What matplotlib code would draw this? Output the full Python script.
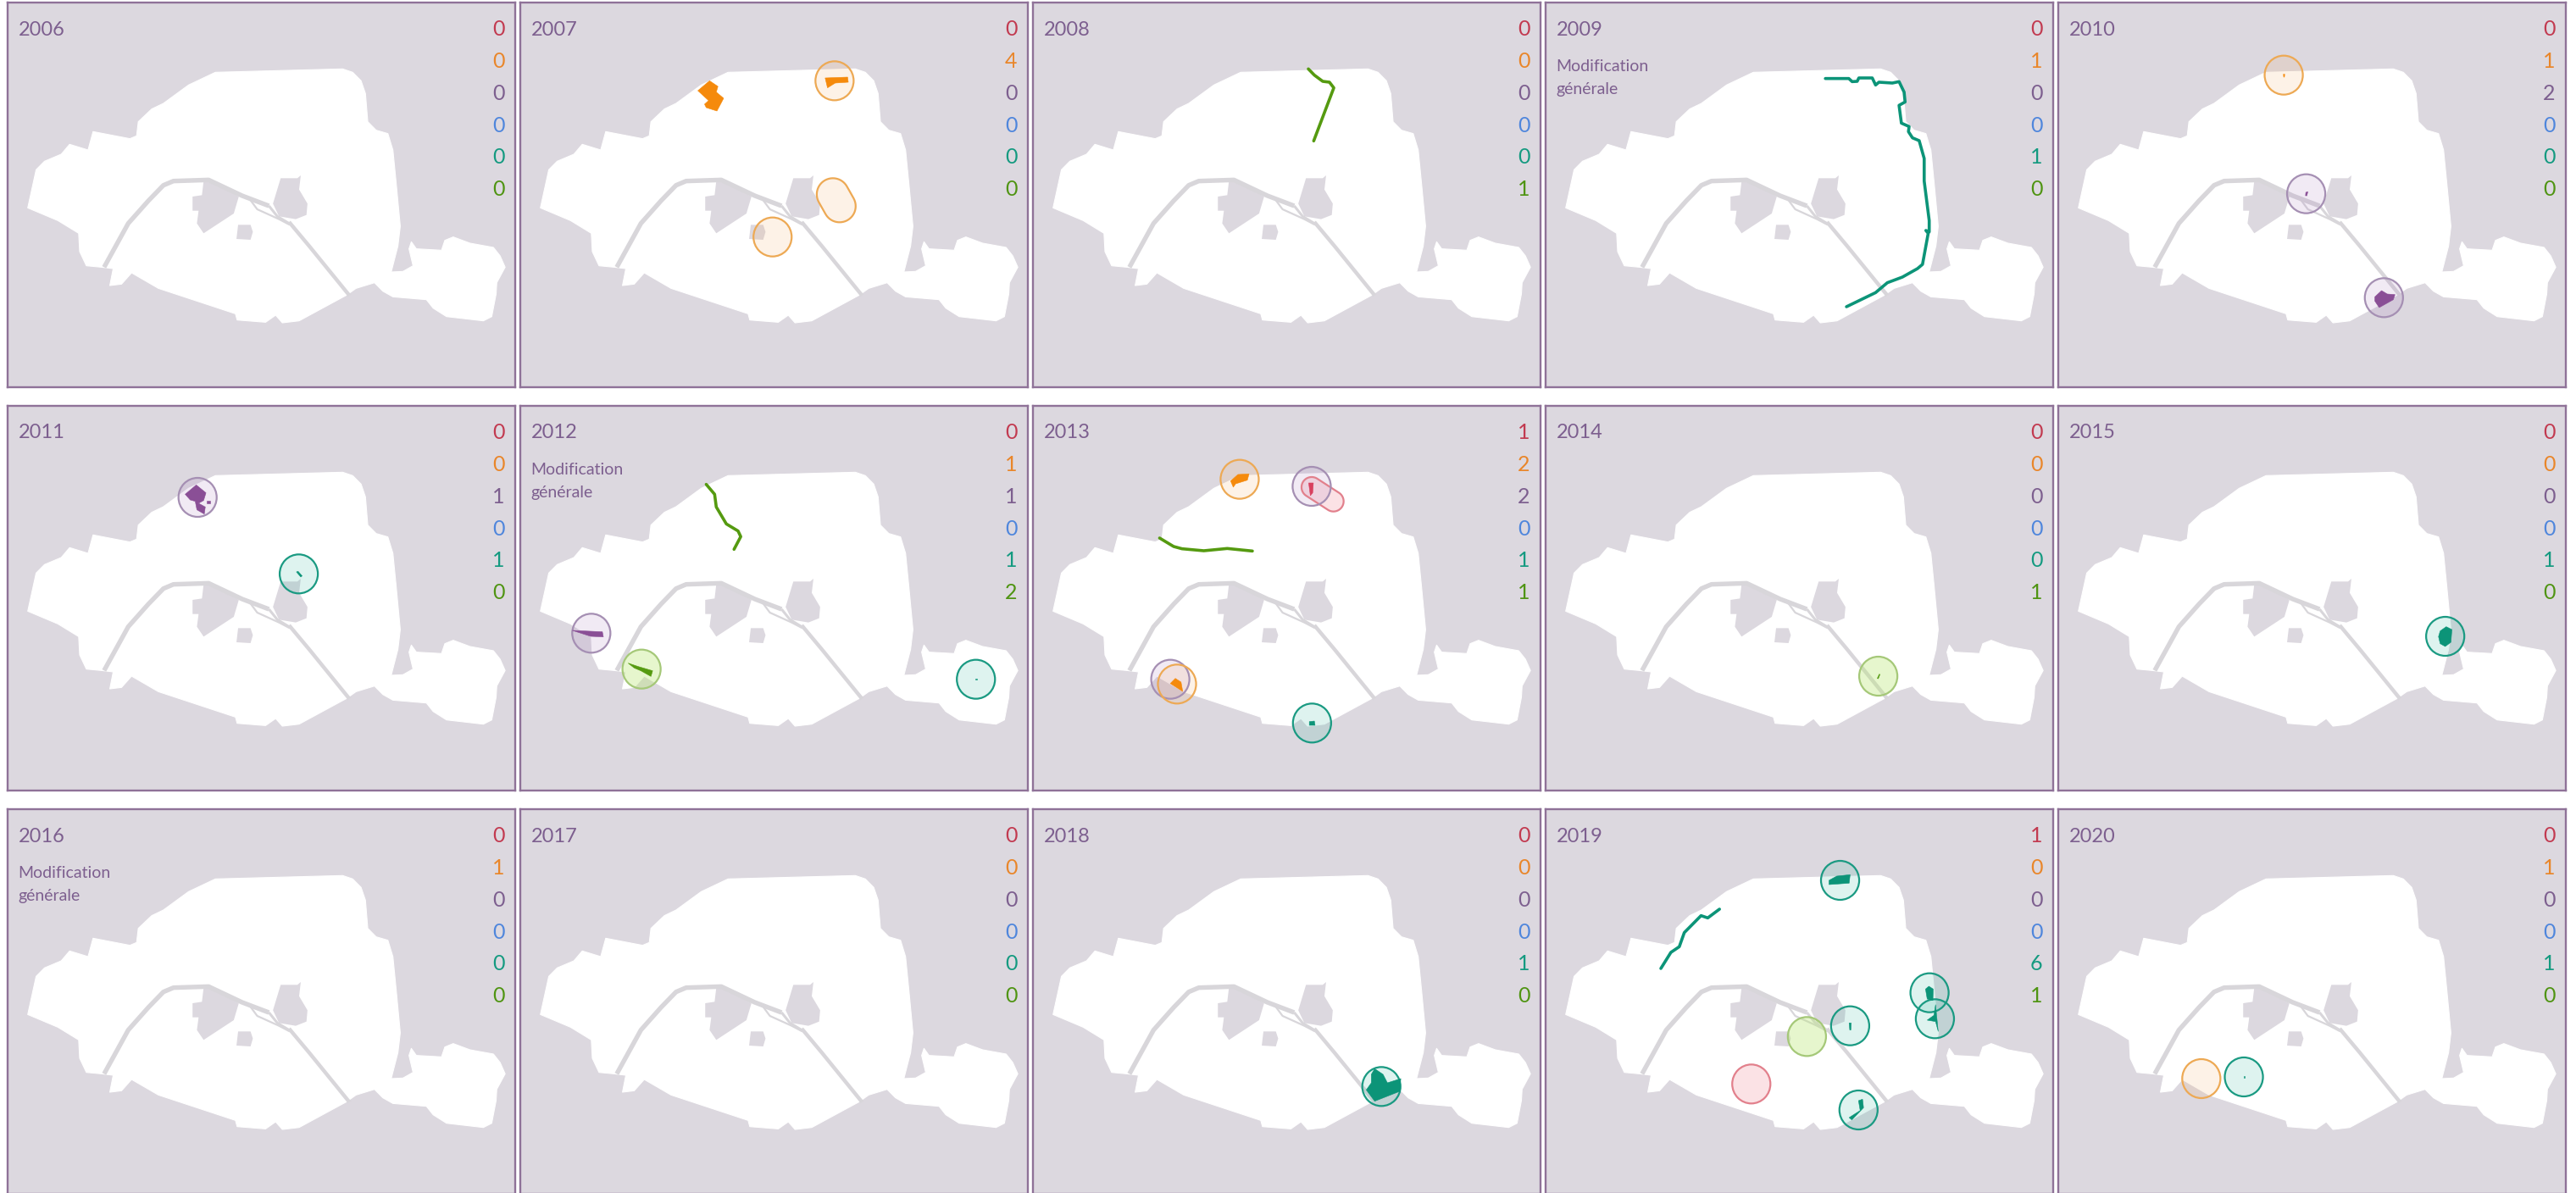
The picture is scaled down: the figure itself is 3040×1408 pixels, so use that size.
import numpy as np
import matplotlib
matplotlib.use("Agg")
import matplotlib.pyplot as plt
from matplotlib.patches import Polygon, Ellipse

plt.rcParams['font.family'] = ['Lato', 'DejaVu Sans']

YEARS = list(range(2006, 2021))
COUNT_RED    = [0, 0, 0, 0, 0, 0, 0, 1, 0, 0, 0, 0, 0, 1, 0]
COUNT_ORANGE = [0, 4, 0, 1, 1, 0, 1, 2, 0, 0, 1, 0, 0, 0, 1]
COUNT_PURPLE = [0, 0, 0, 0, 2, 1, 1, 2, 0, 0, 0, 0, 0, 0, 0]
COUNT_BLUE   = [0, 0, 0, 0, 0, 0, 0, 0, 0, 0, 0, 0, 0, 0, 0]
COUNT_TEAL   = [0, 0, 0, 1, 0, 1, 1, 1, 0, 1, 0, 0, 1, 6, 1]
COUNT_GREEN  = [0, 0, 1, 0, 0, 0, 2, 1, 1, 0, 0, 0, 0, 1, 0]
NOTE_YEARS = [2009, 2012, 2016]
NOTE_LINES = ["Modification", "générale"]

RED, ORANGE, PURPLE, BLUE, TEAL, GREEN = '#c23a50', '#e9862a', '#7d5f8f', '#4f86dc', '#149a80', '#4f9412'
COUNT_SERIES = [(COUNT_RED, RED), (COUNT_ORANGE, ORANGE), (COUNT_PURPLE, PURPLE),
                (COUNT_BLUE, BLUE), (COUNT_TEAL, TEAL), (COUNT_GREEN, GREEN)]
SHAPE_COLOR = {'r': '#d8405f', 'o': '#f58a0c', 'p': '#8a4f96', 't': '#0c9478', 'g': '#559a10'}
EDGE_COLOR  = {'r': '#e2808c', 'o': '#eda954', 'p': '#a58fb3', 't': '#1a9a82', 'g': '#a5c878'}
FILL_COLOR  = {'r': ('#ef7f8c', .22), 'o': ('#f5a95a', .14), 'p': ('#a070b8', .14),
               't': ('#35b5a0', .16), 'g': ('#b8e870', .35)}

# Map geometry (plot units: panel frame 20..1535, 8..1370)
MAP_OUTLINE = [(640,255),(1020,243),(1050,255),(1075,285),(1088,330),(1095,430),(1120,460),(1155,472),(1170,530),
    (1180,650),(1192,800),(1185,870),(1165,962),(1200,960),(1230,940),(1218,880),(1225,855),(1240,880),(1315,885),
    (1325,850),(1350,838),(1400,860),(1470,875),(1490,905),(1505,945),(1480,1000),(1478,1040),(1465,1120),(1440,1135),
    (1330,1120),(1290,1090),(1270,1060),(1170,1050),(1140,1030),(1115,1000),(1060,1020),(1030,1045),(890,1135),
    (840,1142),(820,1115),(790,1140),(705,1132),(700,1110),(470,1020),(390,965),(360,1005),(325,1010),(335,950),
    (300,945),(255,940),(235,890),(232,825),(170,780),(80,735),(105,600),(130,570),(180,545),(205,510),(260,530),
    (275,465),(385,490),(405,480),(410,430),(450,385),(485,365),(560,300)]
SEINE_WEST = [(308,945),(380,790),(440,710),(485,655),(515,640),(620,636),(720,692),(800,728)]
SEINE_EAST = [(860,785),(920,870),(1040,1045)]
SEINE_ARM  = [(740,700),(765,740),(830,775),(862,795)]
SEINE_ARM2 = [(800,728),(825,765),(860,790)]
PARK_WEST = [(605,640),(620,635),(710,695),(695,755),(605,825),(585,790),(590,745),(572,745),(572,695),(600,690)]
PARK_EAST = [(835,630),(885,630),(895,620),(890,670),(915,720),(912,760),(880,775),(830,765),(812,720)]
PARK_MID  = [(708,795),(745,795),(752,820),(745,848),(703,845)]

# Circles: year -> (colour, x, y)
CIRCLES = {
    2007: [('o',958,285),('o',773,838)],
    2010: [('o',693,265),('p',760,685),('p',992,1053)],
    2011: [('p',587,332),('t',889,603)],
    2012: [('p',232,813),('g',382,940),('t',1380,976)],
    2013: [('o',637,268),('p',852,293),('p',430,976),('o',450,993),('t',853,1131)],
    2014: [('g',1013,965)],
    2015: [('t',1175,824)],
    2018: [('t',1060,990)],
    2019: [('t',899,260),('t',1166,658),('t',1182,750),('t',929,775),('g',800,813),('r',634,981),('t',954,1073)],
    2020: [('o',447,962),('t',574,956)],
}
# Capsules: year -> (colour, x1, y1, x2, y2, radius in pixels)
CAPSULES = {
    2007: [('o',953,687,973,729,19)],
    2013: [('r',852,296,917,346,12)],
}
# Filled sites: year -> (colour, vertices)
SITES = {
    2007: [('o',[(550,320),(585,285),(610,305),(605,325),(627,347),(607,392),(575,380),(570,368),(582,355)]),
           ('o',[(930,275),(997,272),(999,290),(960,293),(937,310)])],
    2010: [('o',[(692,262),(696,262),(695,272),(693,272)]),
           ('p',[(759,680),(765,678),(762,692),(758,692)]),
           ('p',[(965,1050),(985,1028),(1002,1040),(1025,1042),(1020,1060),(978,1088),(965,1065)])],
    2011: [('p',[(550,321),(583,288),(612,316),(605,343),(590,353),(610,366),(607,391),(585,376),(580,346),(565,341)]),
           ('p',[(615,344),(624,344),(624,352),(615,352)]),
           ('t',[(882,596),(887,594),(899,610),(895,614)])],
    2012: [('p',[(175,803),(265,808),(268,826),(230,824)]),
           ('g',[(342,919),(372,931),(415,946),(410,966),(380,946),(360,936)]),
           ('t',[(1378,974),(1383,974),(1383,978),(1378,978)])],
    2013: [('o',[(610,274),(632,251),(665,249),(660,271),(625,284),(618,296)]),
           ('r',[(843,281),(857,281),(855,316),(848,326)]),
           ('o',[(430,991),(445,973),(462,986),(467,1019)]),
           ('t',[(845,1126),(860,1124),(862,1139),(845,1139)])],
    2014: [('g',[(1010,973),(1016,958),(1018,959),(1013,974)])],
    2015: [('t',[(1160,805),(1178,790),(1195,800),(1192,845),(1175,860),(1160,850),(1155,825)])],
    2018: [('t',[(1040,927),(1065,947),(1078,977),(1118,962),(1115,1007),(1040,1042),(1015,1002),(1030,977),(1030,947)])],
    2019: [('t',[(866,260),(889,245),(929,240),(926,270),(866,275)]),
           ('t',[(1154,645),(1164,635),(1177,645),(1176,685),(1159,680)]),
           ('t',[(1159,755),(1179,738),(1184,700),(1192,795),(1184,760)]),
           ('t',[(926,765),(932,765),(931,790),(928,790)]),
           ('t',[(926,1100),(959,1075),(954,1040),(966,1035),(969,1065),(934,1108)])],
    2020: [('t',[(573,954),(576,954),(576,958),(573,958)])],
}
# Routes: year -> (colour, vertices)
ROUTES = {
    2008: [('g',[(842,243),(860,265),(885,287),(905,290),(918,310),(858,498)])],
    2009: [('t',[(855,277),(925,277),(935,288),(950,287),(955,275),(995,275),(1005,300),(1015,290),(1055,293),(1075,288),
                 (1090,325),(1093,360),(1075,372),(1082,435),(1105,447),(1103,465),(1115,487),(1135,497),(1150,560),
                 (1150,640),(1165,780),(1165,820),(1155,815),(1162,825),(1145,935),(1130,950),(1085,980),(1040,1000),
                 (1005,1035),(918,1085)])],
    2012: [('g',[(575,286),(600,321),(605,366),(635,426),(670,451),(678,471),(658,516)])],
    2013: [('g',[(398,476),(440,506),(465,514),(530,521),(600,513),(675,522)])],
    2019: [('t',[(364,572),(394,515),(419,495),(434,445),(484,385),(504,393),(539,362)])],
}

W, H = 3040, 1408
fig = plt.figure(figsize=(W/100, H/100), dpi=100, facecolor='white')
PANEL_BG, FRAME, SEINE_C = '#dcd8df', '#8f7298', '#d8d6da'
X0, Y0 = 20, 8
UX, UY = 1515/599, 1362/454

def capsule(x1, y1, x2, y2, r):
    px = np.array([x1/UX, y1/UY]); qx = np.array([x2/UX, y2/UY])
    a = np.arctan2(*(qx-px)[::-1])
    t1 = np.linspace(a+np.pi/2, a+3*np.pi/2, 30)
    t2 = np.linspace(a-np.pi/2, a+np.pi/2, 30)
    pts = np.vstack([px+r*np.c_[np.cos(t1), np.sin(t1)], qx+r*np.c_[np.cos(t2), np.sin(t2)]])
    return pts*[UX, UY]

for i, year in enumerate(YEARS):
    r, c = divmod(i, 5)
    left, top = 9+605*c, 3+476*r
    ax = fig.add_axes([left/W, 1-(top+454)/H, 599/W, 454/H])
    ax.set_xlim(X0, 1535); ax.set_ylim(1370, Y0)
    ax.set_xticks([]); ax.set_yticks([])
    ax.set_facecolor(PANEL_BG)
    for s in ax.spines.values():
        s.set_color(FRAME); s.set_linewidth(1.7); s.set_zorder(20)
    ax.add_patch(Polygon(MAP_OUTLINE, closed=True, fc='white', ec='white', lw=.8, joinstyle='round', zorder=1))
    for park in (PARK_WEST, PARK_EAST, PARK_MID):
        ax.add_patch(Polygon(park, closed=True, fc=PANEL_BG, ec='none', zorder=2))
    for path, lw in ((SEINE_WEST, 3.9), (SEINE_EAST, 3.2), (SEINE_ARM, 1.6), (SEINE_ARM2, 2.2)):
        xs, ys = zip(*path)
        ax.plot(xs, ys, color=SEINE_C, lw=lw, solid_capstyle='butt', solid_joinstyle='round', zorder=2)

    for col, x1, y1, x2, y2, rad in CAPSULES.get(year, []):
        f, al = FILL_COLOR[col]
        pts = capsule(x1, y1, x2, y2, rad)
        ax.add_patch(Polygon(pts, closed=True, fc=f, alpha=al, ec='none', zorder=3))
        ax.add_patch(Polygon(pts, closed=True, fc='none', ec=EDGE_COLOR[col], lw=1.6, zorder=4))
    for col, x, y in CIRCLES.get(year, []):
        f, al = FILL_COLOR[col]
        ax.add_patch(Ellipse((x, y), 114, 138, fc=f, alpha=al, ec='none', zorder=3))
        ax.add_patch(Ellipse((x, y), 114, 138, fc='none', ec=EDGE_COLOR[col], lw=1.6, zorder=4))
    for col, pts in SITES.get(year, []):
        ax.add_patch(Polygon(pts, closed=True, fc=SHAPE_COLOR[col], ec=SHAPE_COLOR[col], lw=.4, zorder=5))
    for col, pts in ROUTES.get(year, []):
        xs, ys = zip(*pts)
        ax.plot(xs, ys, color=SHAPE_COLOR[col], lw=2.6, solid_joinstyle='round', solid_capstyle='round', zorder=5)

    ax.text(52, 104, str(year), color=PURPLE, fontsize=17, ha='left', va='center', zorder=6)
    if year in NOTE_YEARS:
        for j, line in enumerate(NOTE_LINES):
            ax.text(52, 236+79*j, line, color=PURPLE, fontsize=14, ha='left', va='center', zorder=6)
    for j, (vals, colr) in enumerate(COUNT_SERIES):
        ax.text(1503, 104+113.2*j, str(vals[i]), color=colr, fontsize=18, ha='right', va='center', zorder=6)

fig.savefig('out.png', dpi=100)
